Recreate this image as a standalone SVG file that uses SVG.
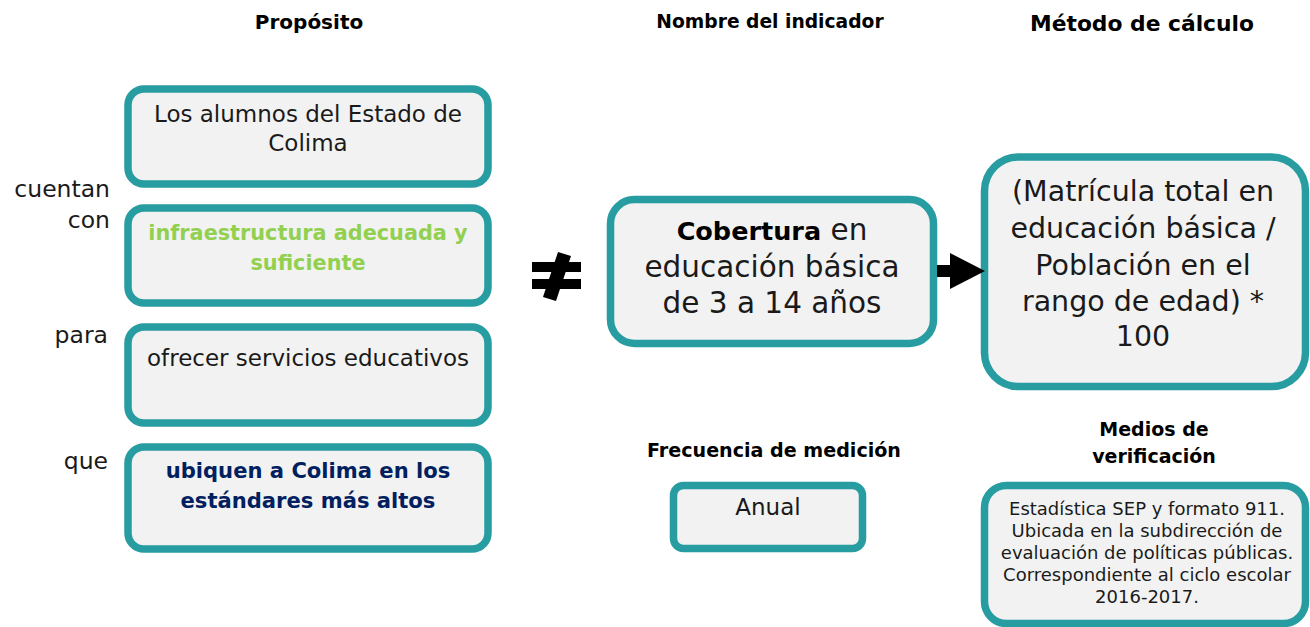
<svg xmlns="http://www.w3.org/2000/svg" width="1310" height="627" viewBox="0 0 1310 627">
<style>
.box{fill:#F2F2F2;stroke:#279CA1;stroke-width:7.5}
text{font-family:"DejaVu Sans","Noto Sans",sans-serif;fill:#1a1a1a;text-anchor:middle}
.h{font-weight:bold;fill:#000}
.lbl{font-size:23.5px;text-anchor:end}
.b1{font-size:23px}
.green{font-weight:bold;fill:#92D050;font-size:20.8px}
.navy{font-weight:bold;fill:#002060;font-size:21.1px}
.big{font-size:29.5px}
.met{font-size:28.5px}
.small{font-size:18px}
</style>
<rect width="1310" height="627" fill="#fff"/>
<g id="headers">
<text class="h" x="309" y="29" font-size="20">Propósito</text>
<text class="h" x="770" y="28" font-size="18.7">Nombre del indicador</text>
<text class="h" x="1142" y="31" font-size="21.8">Método de cálculo</text>
<text class="h" x="774" y="457" font-size="19.1">Frecuencia de medición</text>
<text class="h" x="1154" y="436" font-size="19">Medios de</text>
<text class="h" x="1154" y="463" font-size="19">verificación</text>
</g>
<g id="labels">
<text class="lbl" x="110" y="197">cuentan</text>
<text class="lbl" x="110" y="228">con</text>
<text class="lbl" x="108" y="343">para</text>
<text class="lbl" x="108" y="469">que</text>
</g>
<g id="p1">
<rect class="box" x="128" y="89" width="360" height="95" rx="16"/>
<text class="b1" x="308" y="122">Los alumnos del Estado de</text>
<text class="b1" x="308" y="151">Colima</text>
</g>
<g id="p2">
<rect class="box" x="128" y="208" width="360" height="95" rx="16"/>
<text class="green" x="308" y="240">infraestructura adecuada y</text>
<text class="green" x="308" y="270">suficiente</text>
</g>
<g id="p3">
<rect class="box" x="128" y="327" width="360" height="96" rx="16"/>
<text class="b1" x="308" y="366">ofrecer servicios educativos</text>
</g>
<g id="p4">
<rect class="box" x="128" y="447" width="360" height="102" rx="16"/>
<text class="navy" x="308" y="478">ubiquen a Colima en los</text>
<text class="navy" x="308" y="508">estándares más altos</text>
</g>
<g id="indicador">
<rect class="box" x="610.5" y="199.5" width="323" height="144" rx="24"/>
<text class="big" x="772" y="240"><tspan font-weight="bold" fill="#000" font-size="25.5">Cobertura</tspan> en</text>
<text class="big" x="772" y="277">educación básica</text>
<text class="big" x="772" y="313">de 3 a 14 años</text>
</g>
<g id="metodo">
<rect class="box" x="984.5" y="157" width="321" height="229.5" rx="34"/>
<text class="met" x="1143" y="201">(Matrícula total en</text>
<text class="met" x="1143" y="238">educación básica /</text>
<text class="met" x="1143" y="275">Población en el</text>
<text class="met" x="1143" y="311">rango de edad) *</text>
<text class="met" x="1143" y="346">100</text>
</g>
<g id="frecuencia">
<rect class="box" x="673.5" y="485.5" width="189" height="63" rx="10"/>
<text class="b1" x="768" y="515" font-size="24">Anual</text>
</g>
<g id="medios">
<rect class="box" x="984.5" y="485.5" width="321" height="138" rx="22"/>
<text class="small" x="1147" y="515">Estadística SEP y formato 911.</text>
<text class="small" x="1147" y="537">Ubicada en la subdirección de</text>
<text class="small" x="1147" y="559">evaluación de políticas públicas.</text>
<text class="small" x="1147" y="581">Correspondiente al ciclo escolar</text>
<text class="small" x="1147" y="603">2016-2017.</text>
</g>
<g id="connectors">
<rect x="532" y="262" width="49" height="10" fill="#000"/>
<rect x="532" y="279" width="49" height="10" fill="#000"/>
<polygon points="558,252 571,256 556,301 543,297" fill="#000"/>
<polygon points="937,265 950,265 950,253 985,271 950,289 950,277 937,277" fill="#000"/>
</g>
</svg>
